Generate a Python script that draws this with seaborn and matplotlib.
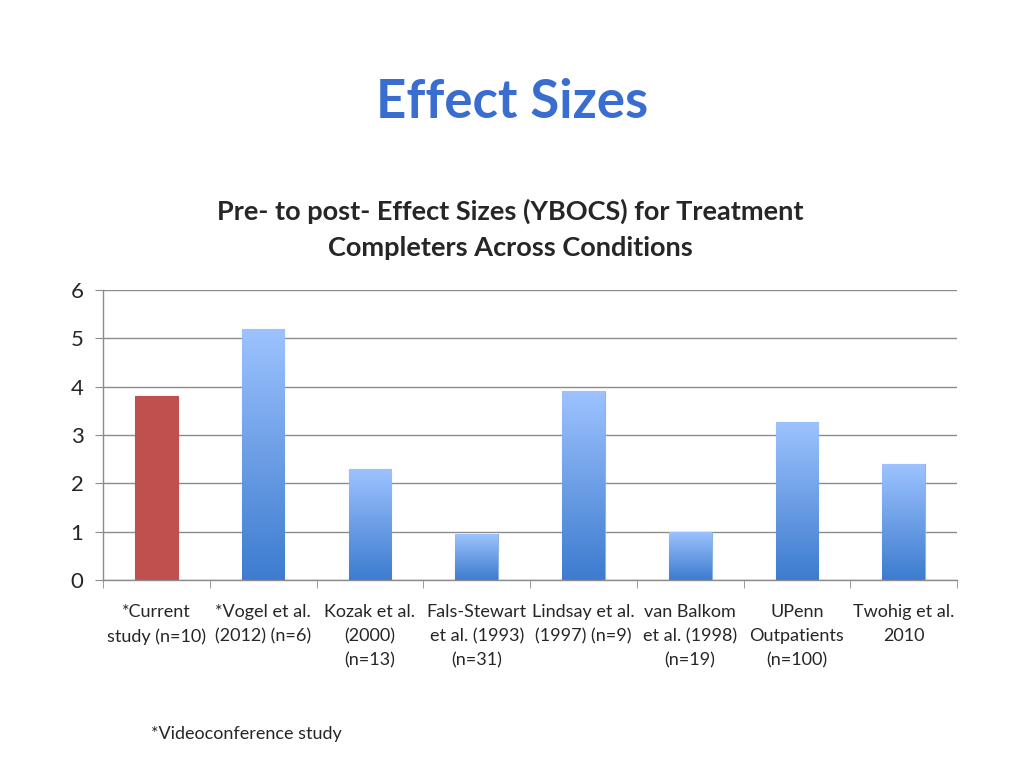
import numpy as np
import pandas as pd
import matplotlib.pyplot as plt
import seaborn as sns
from matplotlib.colors import LinearSegmentedColormap

# Data
studies = ['*Current\nstudy (n=10)', '*Vogel et al.\n(2012) (n=6)', 'Kozak et al.\n(2000)\n(n=13)',
           'Fals-Stewart\net al. (1993)\n(n=31)', 'Lindsay et al.\n(1997) (n=9)',
           'van Balkom\net al. (1998)\n(n=19)', 'UPenn\nOutpatients\n(n=100)', 'Twohig et al.\n2010']
effect_sizes = [3.8, 5.2, 2.3, 0.95, 3.9, 1.0, 3.27, 2.4]

df = pd.DataFrame({'study': studies, 'effect': effect_sizes})

sns.set_style('white')
plt.rcParams['font.family'] = ['Lato', 'DejaVu Sans']

fig = plt.figure(figsize=(10.24, 7.68), dpi=100)
ax = fig.add_axes([0.1006, 0.2448, 0.834, 0.3776])

sns.barplot(data=df, x='study', y='effect', color='#4F81BD', width=0.4,
            edgecolor='#8DB3E2', linewidth=0.8, ax=ax)

# gradient fill on the blue bars, solid red for the current study
cmap = LinearSegmentedColormap.from_list('grad', ['#3D7CCF', '#6D9FE6', '#9DC3FF'])
grad = np.linspace(0, 1, 256).reshape(-1, 1)
for i, p in enumerate(ax.patches):
    x, y = p.get_x(), p.get_y()
    w, h = p.get_width(), p.get_height()
    if i == 0:
        p.set_facecolor('#C0504D')
        p.set_edgecolor('#C0504D')
        continue
    im = ax.imshow(grad, cmap=cmap, aspect='auto', origin='lower',
                   extent=[x, x + w, y, y + h], zorder=p.get_zorder() + 0.1)
    im.set_clip_path(p)

ax.set_xlim(-0.5, len(studies) - 0.5)
ax.set_ylim(0, 6)
ax.set_yticks(range(0, 7))
ax.yaxis.grid(True, color='#8C8C8C', linewidth=1)
ax.set_axisbelow(True)
ax.set_xlabel('')
ax.set_ylabel('')

for s in ['top', 'right']:
    ax.spines[s].set_visible(False)
for s in ['left', 'bottom']:
    ax.spines[s].set_color('#8C8C8C')
    ax.spines[s].set_linewidth(1)

ax.tick_params(axis='y', labelsize=16, length=6, color='#8C8C8C', left=True, pad=8)
ax.tick_params(axis='x', which='major', length=0, labelsize=13, pad=17)
ax.set_xticks(np.arange(-0.5, len(studies)), minor=True)
ax.tick_params(axis='x', which='minor', length=6, color='#8C8C8C', bottom=True)
for lbl in ax.get_xticklabels():
    lbl.set_linespacing(1.65)
    lbl.set_va('top')

fig.text(0.5, 0.866, 'Effect Sizes', ha='center', va='center',
         fontsize=38, fontweight='bold', color='#3A6DD0')
fig.text(0.498, 0.702, 'Pre- to post- Effect Sizes (YBOCS) for Treatment\nCompleters Across Conditions',
         ha='center', va='center', fontsize=19.5, fontweight='bold', linespacing=1.6)
fig.text(0.147, 0.044, '*Videoconference study', ha='left', va='center', fontsize=13)

fig.savefig('out.png', dpi=100, facecolor='white')
